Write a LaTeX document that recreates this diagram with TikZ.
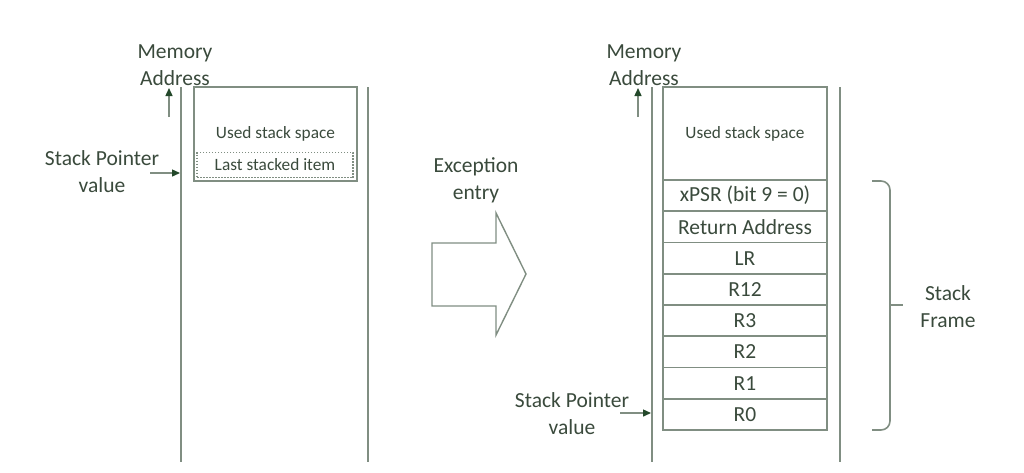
\documentclass[tikz,border=0pt]{standalone}
\usepackage{fontspec}
\setmainfont{Carlito}
\usetikzlibrary{arrows.meta}
\definecolor{ln}{RGB}{128,142,130}
\definecolor{tx}{RGB}{58,74,60}
\definecolor{ar}{RGB}{35,72,42}
\begin{document}
\begin{tikzpicture}[x=1pt,y=-1pt,
  lbl/.style={text=tx,font=\fontsize{21.5}{26.5}\selectfont,align=center,inner sep=0pt},
  small/.style={text=tx,font=\fontsize{17.3}{21}\selectfont,inner sep=0pt},
  vline/.style={draw=ln,line width=2pt},
  box/.style={draw=ln,line width=1.6pt},
  row/.style={draw=ln,line width=1.6pt,minimum width=164pt,minimum height=31.25pt,inner sep=0pt,text=tx,font=\fontsize{21.5}{26.5}\selectfont},
  ptr/.style={draw=ln,line width=1.4pt,-{Triangle[length=8pt,width=7pt,color=ar]}}
]
\useasboundingbox (0,0) rectangle (1024,472);
% ---------- left diagram ----------
\coordinate (L1t) at (181,87); \coordinate (L1b) at (181,462);
\coordinate (L2t) at (368,87); \coordinate (L2b) at (368,462);
\draw[vline] (L1t) -- (L1b);
\draw[vline] (L2t) -- (L2b);
\node[box,minimum width=163pt,minimum height=94pt,inner sep=0pt] (used1) at (275.5,134) {};
\node[small] (usedtxt1) at (275.5,134) {Used stack space};
\node[draw=ln,line width=1.2pt,dash pattern=on 1.5pt off 1.5pt,minimum width=156pt,minimum height=25pt,inner sep=0pt,small] (last) at (275,165) {Last stacked item};
\node[lbl] (mem1) at (175,65) {Memory\\Address};
\coordinate (ma1s) at (169,117); \coordinate (ma1e) at (169,88);
\draw[ptr] (ma1s) -- (ma1e);
\node[lbl] (sp1) at (102,171.5) {Stack Pointer\\value};
\coordinate (sp1s) at (150,173); \coordinate (sp1e) at (180,173);
\draw[ptr] (sp1s) -- (sp1e);
% ---------- exception arrow ----------
\node[lbl] (exc) at (476,180.5) {Exception\\entry};
\draw[draw=ln,line width=1.4pt,line join=miter] (432,243) -- (496,243) -- (496,213) -- (526,274) -- (496,335) -- (496,306) -- (432,306) -- cycle;
% ---------- right diagram ----------
\coordinate (R1t) at (652,87); \coordinate (R1b) at (652,462);
\coordinate (R2t) at (840,87); \coordinate (R2b) at (840,462);
\draw[vline] (R1t) -- (R1b);
\draw[vline] (R2t) -- (R2b);
\node[box,minimum width=164pt,minimum height=93pt,inner sep=0pt] (used2) at (745,133.5) {};
\node[small] (usedtxt2) at (745,134) {Used stack space};
\node[row] (xpsr) at (745,195.6) {xPSR (bit 9 = 0)};
\node[row] (ret) at (745,226.9) {Return Address};
\node[row] (lr) at (745,258.1) {LR};
\node[row] (r12) at (745,289.4) {R12};
\node[row] (r3) at (745,320.6) {R3};
\node[row] (r2) at (745,351.9) {R2};
\node[row] (r1) at (745,383.1) {R1};
\node[row] (r0) at (745,414.4) {R0};
\node[lbl] (mem2) at (644,65) {Memory\\Address};
\coordinate (ma2s) at (638,117); \coordinate (ma2e) at (638,88);
\draw[ptr] (ma2s) -- (ma2e);
\node[lbl] (sp2) at (572,413.5) {Stack Pointer\\value};
\coordinate (sp2s) at (620,413); \coordinate (sp2e) at (651,413);
\draw[ptr] (sp2s) -- (sp2e);
% ---------- brace ----------
\draw[draw=ln,line width=1.6pt,rounded corners=9pt] (872,181) -- (890,181) -- (890,430) -- (872,430);
\draw[draw=ln,line width=1.6pt] (890,305) -- (903,305);
\node[lbl] (frame) at (948,306.5) {Stack\\Frame};
\end{tikzpicture}
\end{document}
